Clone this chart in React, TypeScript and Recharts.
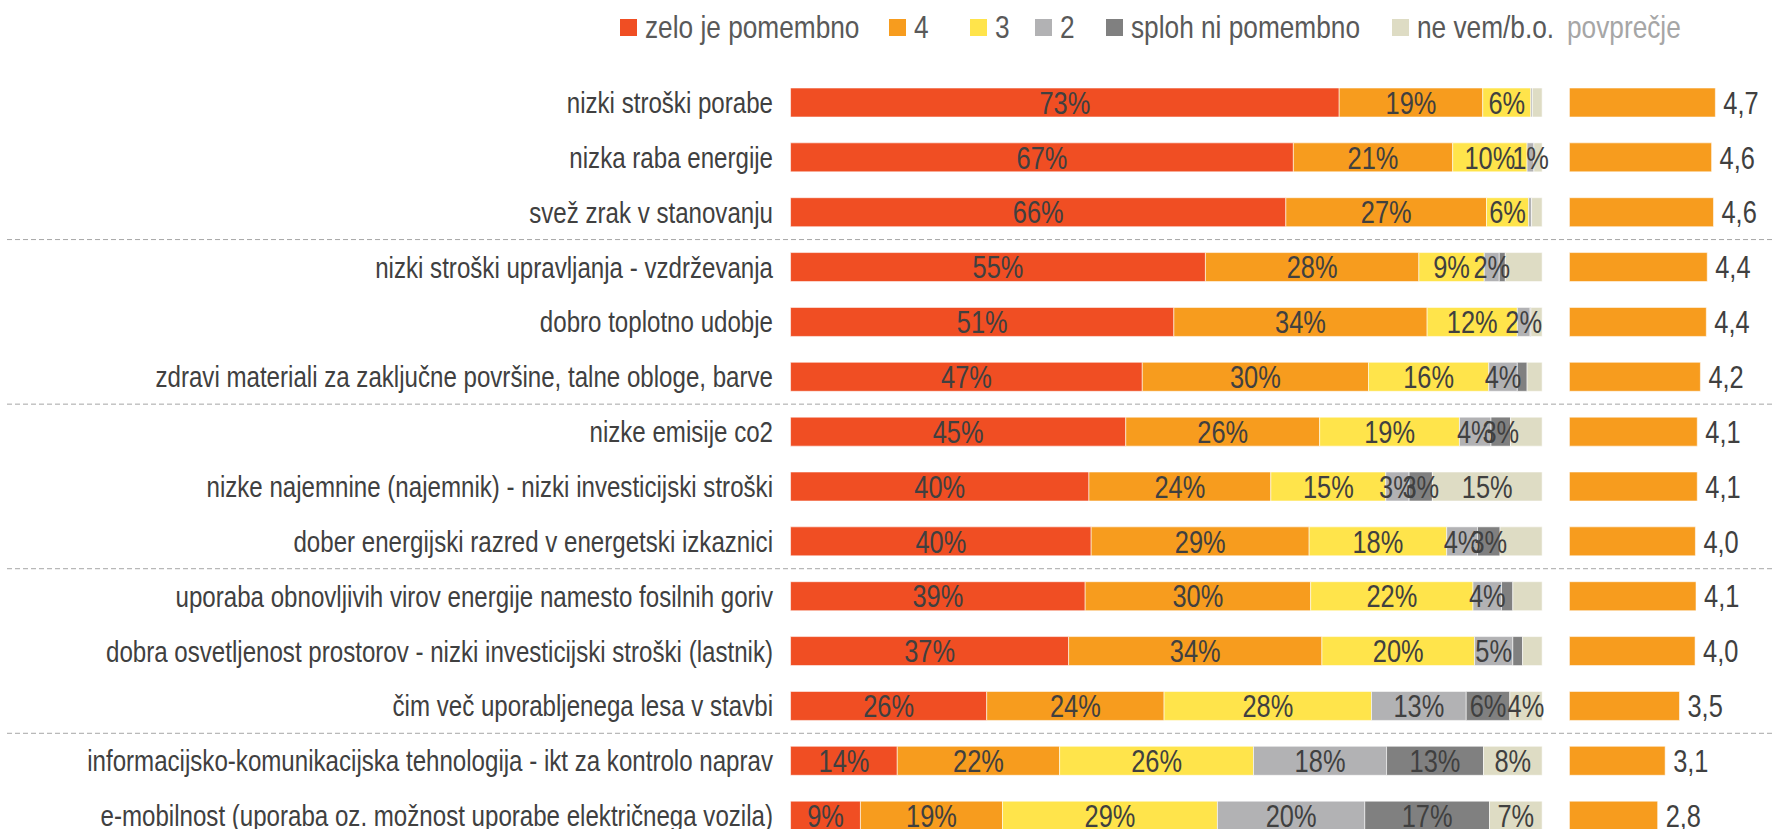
import React from 'react';
import { BarChart, Bar, XAxis, YAxis, LabelList, ReferenceLine } from 'recharts';

const FONT = '"Liberation Sans", Arial, sans-serif';
const NARROW = 0.82; // Arial Narrow look: Arial metrics condensed horizontally

const categories = [
  'nizki stroški porabe',
  'nizka raba energije',
  'svež zrak v stanovanju',
  'nizki stroški upravljanja - vzdrževanja',
  'dobro toplotno udobje',
  'zdravi materiali za zaključne površine, talne obloge, barve',
  'nizke emisije co2',
  'nizke najemnine (najemnik) - nizki investicijski stroški',
  'dober energijski razred v energetski izkaznici',
  'uporaba obnovljivih virov energije namesto fosilnih goriv',
  'dobra osvetljenost prostorov - nizki investicijski stroški (lastnik)',
  'čim več uporabljenega lesa v stavbi',
  'informacijsko-komunikacijska tehnologija - ikt za kontrolo naprav',
  'e-mobilnost (uporaba oz. možnost uporabe električnega vozila)',
];

const zelo = [73.0, 66.9, 65.9, 55.2, 51.0, 46.8, 44.6, 39.7, 40.0, 39.2, 37.0, 26.1, 14.2, 9.3];
const ocena4 = [19.1, 21.2, 26.7, 28.4, 33.7, 30.1, 25.8, 24.2, 29.0, 30.0, 33.7, 23.6, 21.6, 18.9];
const ocena3 = [6.4, 9.9, 5.6, 8.7, 12.0, 16.0, 18.6, 15.3, 18.3, 21.6, 20.3, 27.6, 25.8, 28.6];
const ocena2 = [0.2, 0.9, 0.4, 2.0, 1.7, 3.8, 4.2, 3.1, 4.1, 3.8, 5.1, 12.6, 17.7, 19.6];
const splohNi = [0, 0, 0, 0.8, 0.1, 1.3, 2.6, 3.1, 3.0, 1.5, 1.3, 5.8, 12.9, 16.6];
const neVem = [1.3, 1.1, 1.4, 4.9, 1.5, 2.0, 4.2, 14.6, 5.6, 3.9, 2.6, 4.3, 7.8, 7.0];
const povprecje = [4.68, 4.56, 4.62, 4.42, 4.39, 4.2, 4.1, 4.1, 4.04, 4.06, 4.03, 3.53, 3.07, 2.83];

// rows whose value label is printed (null = all rows)
const shownOcena2 = [1, 3, 4, 5, 6, 7, 8, 9, 10, 11, 12, 13];
const shownSplohNi = [6, 7, 8, 11, 12, 13];
const shownNeVem = [7, 11, 12, 13];

const groupBreaks = [3, 6, 9, 12];

const series = [
  { key: 'zelo', name: 'zelo je pomembno', color: '#F04E23', values: zelo, shown: null as number[] | null },
  { key: 'o4', name: '4', color: '#F79C1E', values: ocena4, shown: null as number[] | null },
  { key: 'o3', name: '3', color: '#FFE44B', values: ocena3, shown: null as number[] | null },
  { key: 'o2', name: '2', color: '#B2B2B4', values: ocena2, shown: shownOcena2 },
  { key: 'o1', name: 'sploh ni pomembno', color: '#808080', values: splohNi, shown: shownSplohNi },
  { key: 'nv', name: 'ne vem/b.o.', color: '#DEDCC4', values: neVem, shown: shownNeVem },
];

const AVG_COLOR = '#F79C1E';
const TEXT = '#404040';

// layout constants (pixels)
const W = 1774;
const H = 843;
const PLOT_LEFT = 6;
const PLOT_TOP = 75;
const PCT_X0 = 790;
const PCT_X100 = 1542;
const AVG_X0 = 1569.3;
const AVG_PX = 31.2;
const LABEL_RIGHT = 773;
const plotW = W - PLOT_LEFT;
const pctPerPx = 100 / (PCT_X100 - PCT_X0);
const pctDomain = [-(PCT_X0 - PLOT_LEFT) * pctPerPx, -(PCT_X0 - PLOT_LEFT) * pctPerPx + plotW * pctPerPx];
const avgDomain = [-(AVG_X0 - PLOT_LEFT) / AVG_PX, -(AVG_X0 - PLOT_LEFT) / AVG_PX + plotW / AVG_PX];

const data = categories.map((name, i) => {
  const row: any = { name, avg: povprecje[i] };
  series.forEach((s) => {
    row[s.key] = s.values[i];
    const show = s.shown === null || s.shown.includes(i);
    row[s.key + 'Label'] = show ? `${Math.round(s.values[i])}%` : '';
  });
  return row;
});

const NarrowText = ({ x, y, anchor, size, children }: any) => (
  <text
    transform={`translate(${x},${y}) scale(${NARROW},1)`}
    x={0}
    y={0}
    dy="0.36em"
    textAnchor={anchor}
    fontSize={size}
    fill={TEXT}
    fontFamily={FONT}
  >
    {children}
  </text>
);

const renderCategoryTick = (props: any) => {
  const { y, payload } = props;
  return (
    <NarrowText x={LABEL_RIGHT} y={y} anchor="end" size={29.4}>
      {payload.value}
    </NarrowText>
  );
};

const renderSegmentLabel = (props: any) => {
  const vb = props.viewBox && props.viewBox.width !== undefined ? props.viewBox : props;
  const { value } = props;
  if (!value) return null;
  const x = Number(vb.x) + Number(vb.width) / 2;
  const y = Number(vb.y) + Number(vb.height) / 2;
  return (
    <NarrowText x={x} y={y} anchor="middle" size={31}>
      {value}
    </NarrowText>
  );
};

const renderAvgLabel = (props: any) => {
  const vb = props.viewBox && props.viewBox.width !== undefined ? props.viewBox : props;
  const { value } = props;
  const x = Number(vb.x) + Number(vb.width) + 8;
  const y = Number(vb.y) + Number(vb.height) / 2;
  return (
    <NarrowText x={x} y={y} anchor="start" size={31}>
      {Number(value).toFixed(1).replace('.', ',')}
    </NarrowText>
  );
};

const legendPos = [620, 889, 970, 1035, 1106, 1392];

const legendText: React.CSSProperties = {
  display: 'inline-block',
  transform: `scaleX(${NARROW})`,
  transformOrigin: 'left center',
  fontFamily: FONT,
  fontSize: 32,
  lineHeight: '38px',
  whiteSpace: 'nowrap',
};

export default function App() {
  return (
    <div style={{ position: 'relative', width: W, height: 829, overflow: 'hidden', background: '#fff' }}>
      <style>{`body{margin:0;overflow:hidden;}`}</style>
      {series.map((s, i) => (
        <div
          key={s.key}
          style={{
            position: 'absolute',
            left: legendPos[i],
            top: 8,
            height: 38,
            display: 'flex',
            alignItems: 'center',
            color: '#595959',
          }}
        >
          <span style={{ display: 'inline-block', width: 17, height: 17, background: s.color, marginRight: 8 }} />
          <span style={legendText}>{s.name}</span>
        </div>
      ))}
      <div
        style={{
          position: 'absolute',
          left: 1567,
          top: 8,
          height: 38,
          display: 'flex',
          alignItems: 'center',
          color: '#A6A6A6',
        }}
      >
        <span style={legendText}>povprečje</span>
      </div>
      <div style={{ position: 'absolute', left: 0, top: 0 }}>
        <BarChart
          width={W}
          height={H}
          data={data}
          layout="vertical"
          margin={{ top: PLOT_TOP, right: 0, bottom: 0, left: PLOT_LEFT }}
        >
          <XAxis xAxisId="pct" type="number" scale="linear" domain={pctDomain} allowDataOverflow hide />
          <XAxis xAxisId="avg" type="number" scale="linear" domain={avgDomain} allowDataOverflow hide />
          <YAxis
            yAxisId="main"
            type="category"
            dataKey="name"
            width={1}
            axisLine={false}
            tickLine={false}
            interval={0}
            tick={renderCategoryTick}
          />
          <YAxis yAxisId="avg" type="category" dataKey="name" hide />
          {groupBreaks.map((b) => (
            <ReferenceLine
              key={b}
              xAxisId="pct"
              yAxisId="main"
              y={categories[b]}
              position="start"
              stroke="#A6A6A6"
              strokeDasharray="5 3"
              strokeWidth={1}
              ifOverflow="visible"
            />
          ))}
          {series.map((s) => (
            <Bar
              key={s.key}
              dataKey={s.key}
              name={s.name}
              stackId="dist"
              xAxisId="pct"
              yAxisId="main"
              fill={s.color}
              stroke="#ffffff"
              strokeOpacity={0.7}
              strokeWidth={0.8}
              barSize={29}
              isAnimationActive={false}
            >
              <LabelList dataKey={s.key + 'Label'} content={renderSegmentLabel} />
            </Bar>
          ))}
          <Bar
            dataKey="avg"
            name="povprečje"
            xAxisId="avg"
            yAxisId="avg"
            fill={AVG_COLOR}
            stroke="#ffffff"
            strokeOpacity={0.7}
            strokeWidth={0.8}
            barSize={29}
            isAnimationActive={false}
          >
            <LabelList dataKey="avg" content={renderAvgLabel} />
          </Bar>
        </BarChart>
      </div>
    </div>
  );
}
